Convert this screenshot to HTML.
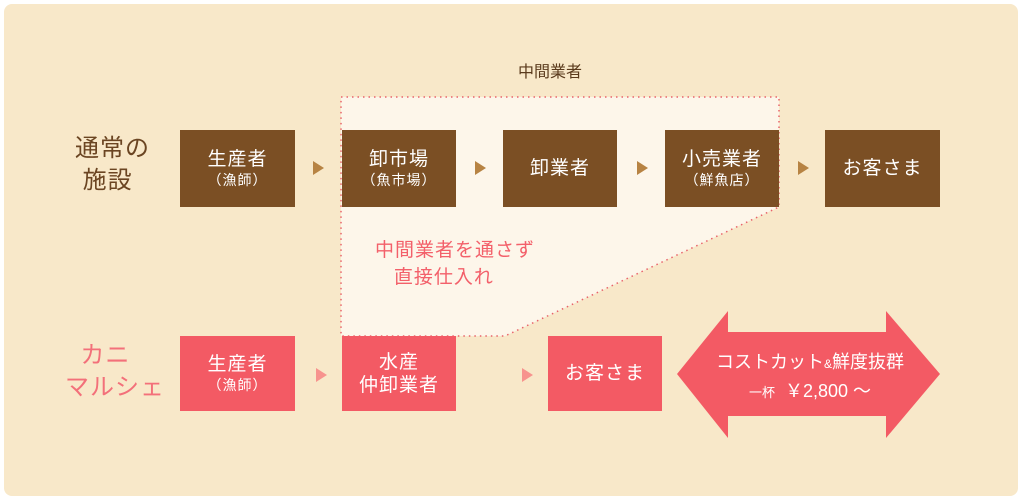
<!DOCTYPE html>
<html><head><meta charset="utf-8"><style>
body{margin:0;width:1024px;height:503px;overflow:hidden;background:#fff;font-family:"Liberation Sans","Noto Sans CJK JP",sans-serif}
.bg{position:absolute;left:4px;top:4px;width:1014px;height:492px;background:#f8e8c9;border-radius:8px}
.b{position:absolute;color:#fff;display:flex;flex-direction:column;align-items:center;justify-content:center;text-align:center;font-size:19px;line-height:23px;letter-spacing:1px}
.b small{font-size:14px;line-height:18px}
.br{background:#7b4f24}.pk{background:#f35a64}
.t{position:absolute;width:0;height:0;border-top:7px solid transparent;border-bottom:7px solid transparent;border-left:11px solid #b78343}
.tp{border-left-color:#f7938e}
.lab{position:absolute;font-size:24px;line-height:32px;letter-spacing:1px}
</style></head><body>
<div class="bg"></div>
<svg style="position:absolute;left:0;top:0" width="1024" height="503">
<polygon points="341,97 779,97 779,207 505,336 341,336" fill="#fdf6ea" stroke="#e8636b" stroke-width="1.5" stroke-dasharray="1.5 4"/>
<polygon points="677,374 728,311 728,332 886,332 886,311 940,374 886,438 886,416 728,416 728,438" fill="#f35a64"/>
</svg>
<div style="position:absolute;left:518px;top:58px;font-size:16px;color:#5a3a1c">中間業者</div>
<div class="lab" style="left:75px;top:133px;color:#6b4522">通常の<br>&nbsp;施設</div>
<div class="lab" style="left:65px;top:340px;color:#f3707a">&nbsp;&nbsp;カニ<br>マルシェ</div>
<div class="b br" style="left:180px;top:130px;width:115px;height:77px">生産者<small>（漁師）</small></div>
<div class="b br" style="left:342px;top:130px;width:114px;height:77px">卸市場<small>（魚市場）</small></div>
<div class="b br" style="left:503px;top:130px;width:114px;height:77px">卸業者</div>
<div class="b br" style="left:665px;top:130px;width:114px;height:77px">小売業者<small>（鮮魚店）</small></div>
<div class="b br" style="left:825px;top:130px;width:115px;height:77px">お客さま</div>
<div class="t" style="left:313px;top:161px"></div>
<div class="t" style="left:475px;top:161px"></div>
<div class="t" style="left:637px;top:161px"></div>
<div class="t" style="left:798px;top:161px"></div>
<div style="position:absolute;left:375px;top:237px;color:#f3606a;font-size:19px;line-height:27px;letter-spacing:1px">中間業者を通さず<br>&nbsp;&nbsp;&nbsp;直接仕入れ</div>
<div class="b pk" style="left:180px;top:336px;width:115px;height:75px">生産者<small>（漁師）</small></div>
<div class="b pk" style="left:342px;top:336px;width:114px;height:75px">水産<br>仲卸業者</div>
<div class="b pk" style="left:548px;top:336px;width:114px;height:75px">お客さま</div>
<div class="t tp" style="left:316px;top:368px"></div>
<div class="t tp" style="left:522px;top:368px"></div>
<div style="position:absolute;left:680px;top:349px;width:260px;text-align:center;color:#fff;font-size:18px;line-height:27px">コストカット<small style="font-size:12px">&amp;</small>鮮度抜群<br><small style="font-size:13px">一杯</small>&nbsp;&nbsp;￥2,800 ～</div>
</body></html>
